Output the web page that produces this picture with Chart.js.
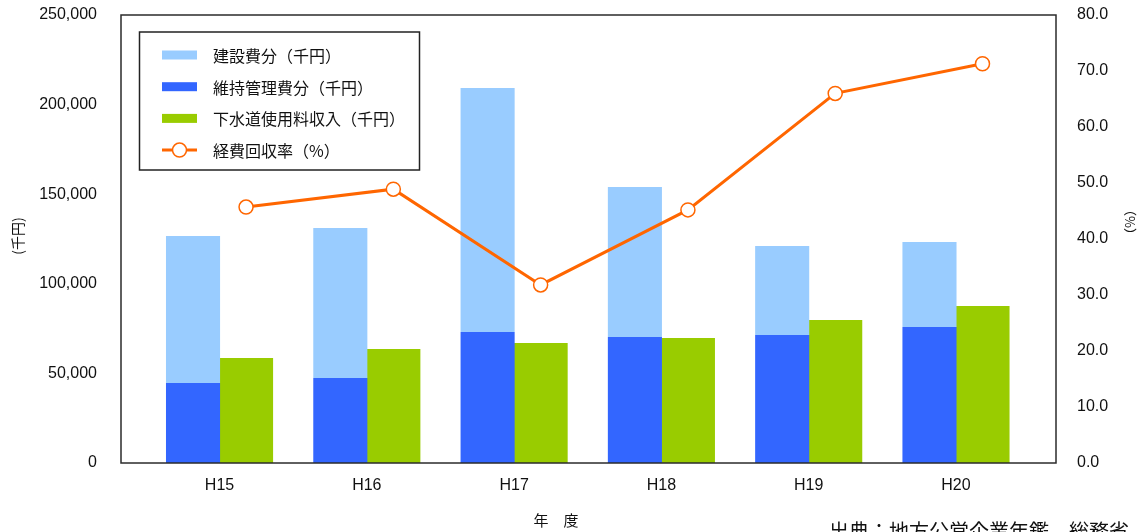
<!DOCTYPE html>
<html lang="ja">
<head>
<meta charset="utf-8">
<title>経費回収率の推移</title>
<script src="https://cdn.jsdelivr.net/npm/chart.js@4/dist/chart.umd.min.js"></script>
<style>
  html, body { margin: 0; padding: 0; background: #fff; }
  #grafico { display: block; }
</style>
</head>
<body>
<canvas id="grafico" width="1145" height="532"></canvas>
<script>
// 年度ごとの値（千円・%）
const years = ["H15", "H16", "H17", "H18", "H19", "H20"];
const maintenanceCost = [44600, 47400, 73100, 70300, 71400, 75900];
const constructionCost = [82100, 83700, 136200, 83700, 49700, 47400];
const sewerRevenue = [58600, 63600, 67000, 69800, 79800, 87600];
const recoveryRate = [45.7, 48.9, 31.8, 45.2, 66.0, 71.3];

const costTicks = [0, 50000, 100000, 150000, 200000, 250000];
const rateTicks = [0, 10, 20, 30, 40, 50, 60, 70, 80];

const LATIN = "'Liberation Sans', Arial, sans-serif";
const CJK = "'Noto Sans CJK JP', 'Noto Sans', sans-serif";
const FRAME = "#2b2b2b";

// 凡例の並び（データセット番号）
const legendOrder = [1, 0, 2, 3];
const REVENUE = 2;
const RATE = 3;

const toPoints = arr => arr.map((v, i) => ({ x: i + 1, y: v }));

// 回収率の折れ線を使用料収入の棒の中心にそろえる
const alignRate = {
  id: "alignRate",
  beforeDatasetDraw(chart, args) {
    if (args.index !== RATE) return;
    const bar = chart.getDatasetMeta(REVENUE).data[0];
    const dx = bar.x - chart.scales.x.getPixelForValue(1);
    chart.ctx.save();
    chart.ctx.translate(dx, 0);
  },
  afterDatasetDraw(chart, args) {
    if (args.index === RATE) chart.ctx.restore();
  }
};

// グラフ枠
const frame = {
  id: "frame",
  afterDatasetsDraw(chart) {
    const { ctx, chartArea: a } = chart;
    ctx.save();
    ctx.strokeStyle = FRAME;
    ctx.lineWidth = 1.5;
    ctx.strokeRect(a.left, a.top, a.right - a.left, a.bottom - a.top);
    ctx.restore();
  }
};

// 枠内の凡例と軸タイトル・出典
const decorations = {
  id: "decorations",
  afterDraw(chart) {
    const ctx = chart.ctx;
    const ds = chart.data.datasets;

    ctx.save();
    // 凡例
    const bx = 139.5, by = 32, bw = 280, bh = 138;
    ctx.fillStyle = "#fff";
    ctx.fillRect(bx, by, bw, bh);
    ctx.strokeStyle = "#222";
    ctx.lineWidth = 1.5;
    ctx.strokeRect(bx, by, bw, bh);

    ctx.font = "16px " + CJK;
    ctx.textBaseline = "middle";
    ctx.textAlign = "left";
    legendOrder.forEach((idx, row) => {
      const d = ds[idx];
      const cy = 55 + row * 31.7;
      if (d.type === "line") {
        ctx.strokeStyle = d.borderColor;
        ctx.lineWidth = 3;
        ctx.beginPath();
        ctx.moveTo(162, cy);
        ctx.lineTo(197, cy);
        ctx.stroke();
        ctx.beginPath();
        ctx.arc(179.5, cy, 7, 0, Math.PI * 2);
        ctx.fillStyle = "#fff";
        ctx.fill();
        ctx.lineWidth = 1.5;
        ctx.stroke();
      } else {
        ctx.fillStyle = d.backgroundColor;
        ctx.fillRect(162, cy - 4.5, 35, 9);
      }
      ctx.fillStyle = "#111";
      ctx.fillText(d.label, 213, cy + 1);
    });

    // 縦軸タイトル
    ctx.fillStyle = "#111";
    ctx.font = "14px " + CJK;
    ctx.textAlign = "center";
    ctx.save();
    ctx.translate(18, 236);
    ctx.rotate(-Math.PI / 2);
    ctx.fillText("(千円)", 0, 0);
    ctx.restore();

    ctx.font = "13px " + CJK;
    ctx.save();
    ctx.translate(1130, 222);
    ctx.rotate(-Math.PI / 2);
    ctx.fillText("（%）", 0, 0);
    ctx.restore();

    // 横軸タイトル
    ctx.font = "15px " + CJK;
    ctx.fillText("年　度", 556, 520);

    // 出典
    ctx.textAlign = "left";
    ctx.textBaseline = "top";
    ctx.font = "20px " + CJK;
    ctx.fillText("出典：地方公営企業年鑑　総務省", 829, 521);
    ctx.restore();
  }
};

const ctx = document.getElementById("grafico").getContext("2d");

new Chart(ctx, {
  data: {
    datasets: [
      {
        type: "bar",
        label: "維持管理費分（千円）",
        data: toPoints(maintenanceCost),
        backgroundColor: "#3366FF",
        stack: "cost",
        yAxisID: "y",
        order: 1
      },
      {
        type: "bar",
        label: "建設費分（千円）",
        data: toPoints(constructionCost),
        backgroundColor: "#99CCFF",
        stack: "cost",
        yAxisID: "y",
        order: 1
      },
      {
        type: "bar",
        label: "下水道使用料収入（千円）",
        data: toPoints(sewerRevenue),
        backgroundColor: "#99CC00",
        stack: "rev",
        yAxisID: "y",
        order: 1
      },
      {
        type: "line",
        label: "経費回収率（%）",
        data: toPoints(recoveryRate),
        borderColor: "#FF6600",
        borderWidth: 3,
        pointRadius: 7,
        pointBackgroundColor: "#fff",
        pointBorderColor: "#FF6600",
        pointBorderWidth: 1.5,
        tension: 0,
        clip: false,
        yAxisID: "y1",
        order: 0
      }
    ]
  },
  options: {
    responsive: false,
    animation: false,
    devicePixelRatio: 1,
    layout: { padding: { top: 15, left: 0, right: 0, bottom: 0 } },
    datasets: {
      bar: { categoryPercentage: 0.72, barPercentage: 1.02 }
    },
    plugins: {
      legend: { display: false },
      tooltip: { enabled: false }
    },
    scales: {
      x: {
        type: "linear",
        position: "bottom",
        stacked: true,
        offset: false,
        min: 0.331,
        max: 6.679,
        afterBuildTicks: s => { s.ticks = years.map((_, i) => ({ value: i + 1 })); },
        afterFit: s => { s.height = 69; },
        ticks: {
          callback: v => years[v - 1],
          padding: 13,
          color: "#111",
          font: { family: LATIN, size: 16 }
        },
        grid: { display: false, drawTicks: false, offset: false },
        border: { display: false }
      },
      y: {
        type: "linear",
        position: "left",
        stacked: true,
        min: 0,
        max: 250000,
        afterBuildTicks: s => { s.ticks = costTicks.map(v => ({ value: v })); },
        afterFit: s => { s.width = 121; s.paddingTop = 0; s.paddingBottom = 0; },
        ticks: {
          callback: v => v.toLocaleString("en-US"),
          padding: 24,
          color: "#111",
          font: { family: LATIN, size: 16 }
        },
        grid: { display: false, drawTicks: false },
        border: { display: false }
      },
      y1: {
        type: "linear",
        position: "right",
        min: 0,
        max: 80,
        afterBuildTicks: s => { s.ticks = rateTicks.map(v => ({ value: v })); },
        afterFit: s => { s.width = 89; s.paddingTop = 0; s.paddingBottom = 0; },
        ticks: {
          callback: v => v.toFixed(1),
          padding: 21,
          color: "#111",
          font: { family: LATIN, size: 16 }
        },
        grid: { display: false, drawTicks: false },
        border: { display: false }
      }
    }
  },
  plugins: [alignRate, frame, decorations]
});
</script>
</body>
</html>
